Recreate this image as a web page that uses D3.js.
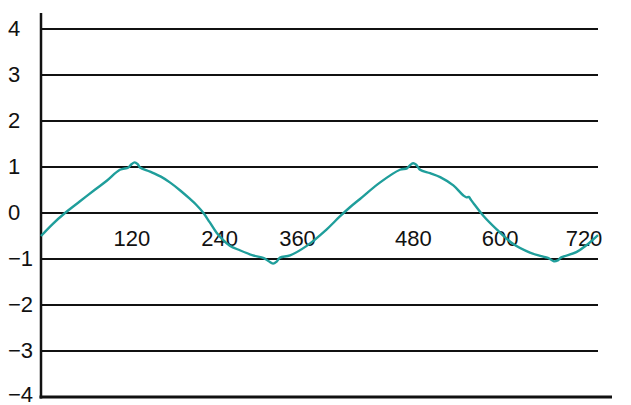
<!DOCTYPE html>
<html>
<head>
<meta charset="utf-8">
<script src="https://cdn.jsdelivr.net/npm/d3@7"></script>
<style>
  body { margin: 0; background: #fff; }
  svg text { font-family: "Liberation Sans", Arial, sans-serif; font-size: 22px; fill: #111; }
</style>
</head>
<body>
<svg id="chart"></svg>
<script>
var width = 631, height = 405;

// wave (degrees, value)
var degrees = [0, 15, 31, 50, 70, 85, 102, 113, 117, 121, 125, 128, 141, 155, 167, 180, 193, 200,
  210, 218, 227, 235, 244, 257, 274, 288, 294, 300, 305, 309, 322, 343, 369, 386, 399, 412, 438,
  464, 473, 477, 481, 485, 490, 503, 516, 533, 546, 550, 553, 556, 560, 572, 589, 611, 632, 649,
  656, 663, 668, 672, 692, 705, 720];
var values = [-0.50, -0.24, 0.00, 0.25, 0.51, 0.70, 0.94, 0.99, 1.06, 1.10, 1.06, 0.99, 0.90, 0.79,
  0.66, 0.49, 0.30, 0.19, 0.00, -0.20, -0.43, -0.58, -0.71, -0.81, -0.92, -0.98, -1.045, -1.10,
  -1.05, -0.97, -0.92, -0.72, -0.36, -0.08, 0.12, 0.30, 0.66, 0.94, 0.97, 1.04, 1.08, 1.05, 0.94,
  0.865, 0.78, 0.60, 0.38, 0.34, 0.35, 0.28, 0.19, -0.065, -0.355, -0.68, -0.86, -0.95, -0.98,
  -1.05, -1.03, -0.97, -0.85, -0.70, -0.48];
var yTicks = [4, 3, 2, 1, 0, -1, -2, -3, -4];
var xTicks = [120, 240, 360, 480, 600, 720];

// labels in the picture sit a bit off their ticks
var xNudge = [-2, -7, -22, 1, -5, -14];

var x = d3.scaleLinear().domain([0, 720]).range([41, 598]);
var y = d3.scaleLinear().domain([-4, 4]).range([397, 29]);

var svg = d3.select("#chart")
  .attr("width", width)
  .attr("height", height);

// horizontal rules
svg.selectAll(".grid").data(yTicks.filter(function(d) { return d != -4; })).enter()
  .append("line")
  .attr("class", "grid")
  .attr("x1", x(0))
  .attr("x2", x(720))
  .attr("y1", function(d) { return y(d); })
  .attr("y2", function(d) { return y(d); })
  .attr("stroke", "#111")
  .attr("stroke-width", 2.2);

// bottom line runs a bit longer
svg.append("line")
  .attr("x1", x(0) - 1.5)
  .attr("x2", 612)
  .attr("y1", y(-4))
  .attr("y2", y(-4))
  .attr("stroke", "#111")
  .attr("stroke-width", 3);

// vertical axis
svg.append("line")
  .attr("x1", x(0))
  .attr("x2", x(0))
  .attr("y1", 13)
  .attr("y2", y(-4) + 1.5)
  .attr("stroke", "#111")
  .attr("stroke-width", 2.5);

svg.selectAll(".ylab").data(yTicks).enter()
  .append("text")
  .attr("class", "ylab")
  .attr("x", 8)
  .attr("y", function(d) { return d == -4 ? y(d) - 2 : y(d); })
  .attr("dy", "0.32em")
  .text(function(d) { return d < 0 ? "\u2212" + Math.abs(d) : d; });

svg.selectAll(".xlab").data(xTicks).enter()
  .append("text")
  .attr("class", "xlab")
  .attr("x", function(d, i) { return x(d) + xNudge[i]; })
  .attr("y", 246)
  .attr("text-anchor", "middle")
  .text(function(d) { return d; });

var pts = degrees.map(function(d, i) { return [d, values[i]]; });

var line = d3.line()
  .x(function(d) { return x(d[0]); })
  .y(function(d) { return y(d[1]); })
  .curve(d3.curveCatmullRom.alpha(0.5));

svg.append("path")
  .datum(pts)
  .attr("d", line)
  .attr("fill", "none")
  .attr("stroke", "#1f9e9b")
  .attr("stroke-width", 2.4)
  .attr("stroke-linejoin", "round");
</script>
</body>
</html>
